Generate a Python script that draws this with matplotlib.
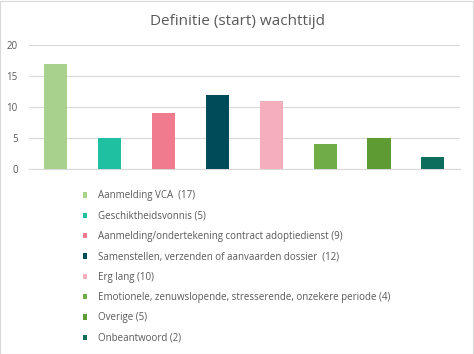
import matplotlib.pyplot as plt
from matplotlib.patches import Rectangle

# data
labels = [
    "Aanmelding VCA  (17)",
    "Geschiktheidsvonnis (5)",
    "Aanmelding/ondertekening contract adoptiedienst (9)",
    "Samenstellen, verzenden of aanvaarden dossier  (12)",
    "Erg lang (10)",
    "Emotionele, zenuwslopende, stresserende, onzekere periode (4)",
    "Overige (5)",
    "Onbeantwoord (2)",
]
values = [17, 5, 9, 12, 11, 4, 5, 2]
colors = ["#A9D18E", "#1FBFA2", "#F07A8E", "#004B5A",
          "#F5AEBB", "#70AD47", "#5E9B32", "#0E6E5E"]
yticks = [0, 5, 10, 15, 20]

plt.rcParams['font.family'] = ['Open Sans', 'DejaVu Sans']
grey = "#595959"

fig = plt.figure(figsize=(4.74, 3.54), dpi=100)
ax = fig.add_axes([0.061, 0.5226, 0.909, 0.3503])

bars = []
for i, (v, c) in enumerate(zip(values, colors)):
    b = ax.bar(i, v, width=0.43, color=c, zorder=3)
    bars.append(b)

ax.set_xlim(-0.5, len(values) - 0.5)
ax.set_ylim(0, 20)
ax.set_yticks(yticks)
ax.set_xticks([])
ax.grid(axis='y', color="#D9D9D9", linewidth=0.8, zorder=0)
for s in ['top', 'right', 'left']:
    ax.spines[s].set_visible(False)
ax.spines['bottom'].set_color("#D9D9D9")
ax.tick_params(axis='y', length=0, labelsize=7, labelcolor=grey, pad=8)

fig.text(0.5, 0.94, "Definitie (start) wachttijd", ha='center', va='center',
         fontsize=11, color=grey)

leg = fig.legend(bars, labels, loc='upper left', bbox_to_anchor=(0.165, 0.476),
                 frameon=False, fontsize=7, handlelength=0.45, handleheight=0.45,
                 handletextpad=1.1, labelspacing=0.96, borderpad=0)
for t in leg.get_texts():
    t.set_color(grey)

fig.patches.append(Rectangle((0.001, 0.001), 0.997, 0.997, transform=fig.transFigure,
                             fill=False, edgecolor="#D9D9D9", linewidth=0.8))

fig.savefig("out.png", dpi=100)
